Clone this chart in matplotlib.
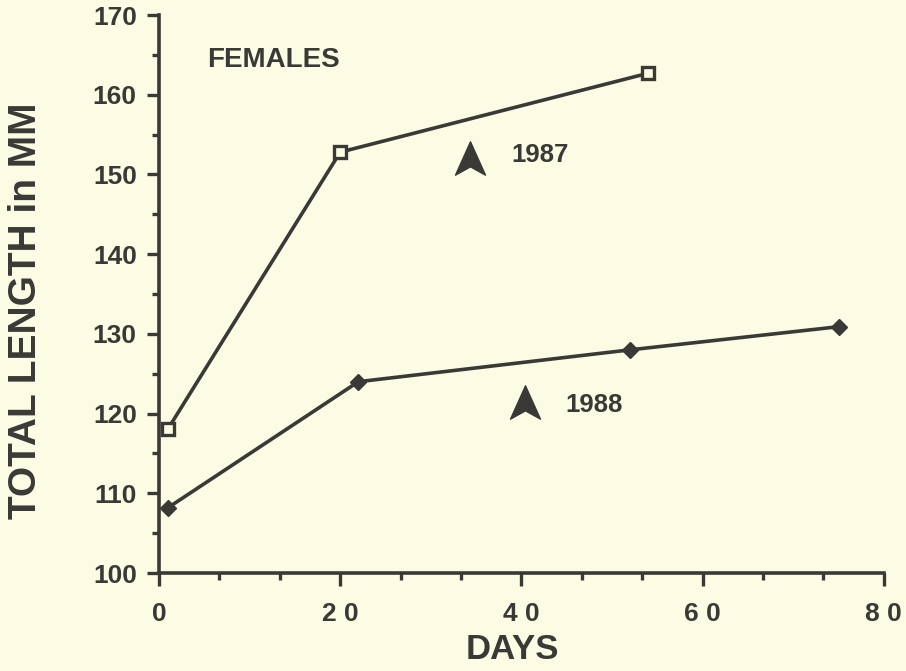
import matplotlib.pyplot as plt
import numpy as np
from matplotlib.path import Path
from matplotlib.ticker import MultipleLocator, FixedLocator, FixedFormatter

# dados (dias, comprimento total em mm)
dias_1987 = [1, 20, 54]
comp_1987 = [118.1, 152.8, 162.7]

dias_1988 = [1, 22, 52, 75]
comp_1988 = [108.2, 124.0, 128.0, 130.9]

x_ticks = [0, 20, 40, 60, 80]
x_rotulos = ['0', '2 0', '4 0', '6 0', '8 0']
y_ticks = [100, 110, 120, 130, 140, 150, 160, 170]

tinta = '#3b3936'
fundo = '#fcfce4'
fonte = 'Liberation Sans'

# seta tipo "ponta de navegação" apontando para cima
seta = Path(
    [(0, 1), (0.9, -1), (0, -0.5), (-0.9, -1), (0, 1)],
    [Path.MOVETO, Path.LINETO, Path.LINETO, Path.LINETO, Path.CLOSEPOLY]
)


def gerar_grafico():

    fig = plt.figure(figsize=(9.06, 6.71), dpi=100, facecolor=fundo)
    ax = fig.add_axes([0.1755, 0.146, 0.800, 0.8316])
    ax.set_facecolor(fundo)

    ax.plot(
        dias_1987, comp_1987,
        color=tinta, linewidth=2.6,
        marker='s', markersize=8,
        markerfacecolor=fundo, markeredgecolor=tinta, markeredgewidth=2.4,
        clip_on=False
    )

    ax.plot(
        dias_1988, comp_1988,
        color=tinta, linewidth=2.6,
        marker='D', markersize=8,
        markerfacecolor=tinta, markeredgecolor=tinta,
        clip_on=False
    )

    ax.set_xlim(0, 80)
    ax.set_ylim(100, 170)

    for lado in ['top', 'right']:
        ax.spines[lado].set_visible(False)
    for lado in ['left', 'bottom']:
        ax.spines[lado].set_linewidth(2.6)
        ax.spines[lado].set_color(tinta)

    ax.xaxis.set_major_locator(FixedLocator(x_ticks))
    ax.xaxis.set_major_formatter(FixedFormatter(x_rotulos))
    ax.xaxis.set_minor_locator(MultipleLocator(20 / 3))
    ax.yaxis.set_major_locator(FixedLocator(y_ticks))
    ax.yaxis.set_minor_locator(MultipleLocator(5))

    ax.tick_params(which='major', length=9, width=2.4, color=tinta,
                   labelcolor=tinta, labelsize=19)
    ax.tick_params(which='minor', length=5, width=2.4, color=tinta)
    ax.tick_params(axis='x', which='major', pad=12)
    ax.tick_params(axis='y', which='major', pad=7)

    for rot in ax.get_xticklabels() + ax.get_yticklabels():
        rot.set_fontfamily(fonte)
        rot.set_fontweight('bold')

    ax.set_xlabel('DAYS', fontsize=25, fontweight='bold', family=fonte,
                  color=tinta)
    ax.xaxis.set_label_coords(0.487, -0.108)
    ax.set_ylabel('TOTAL LENGTH in MM', fontsize=28, fontweight='bold',
                  family=fonte, color=tinta)
    ax.yaxis.set_label_coords(-0.158, 0.47)

    ax.text(5.3, 164.4, 'FEMALES', fontsize=20, fontweight='bold',
            family=fonte, color=tinta, ha='left', va='center')

    ax.plot([34.3], [152.1], marker=seta, markersize=24, color=tinta,
            linestyle='none')
    ax.text(38.9, 152.4, '1987', fontsize=18.5, fontweight='bold',
            family=fonte, color=tinta, ha='left', va='center')

    ax.plot([40.4], [121.5], marker=seta, markersize=24, color=tinta,
            linestyle='none')
    ax.text(44.8, 121.1, '1988', fontsize=18.5, fontweight='bold',
            family=fonte, color=tinta, ha='left', va='center')

    plt.savefig('out.png', dpi=100, facecolor=fundo)


if __name__ == "__main__":
    gerar_grafico()
